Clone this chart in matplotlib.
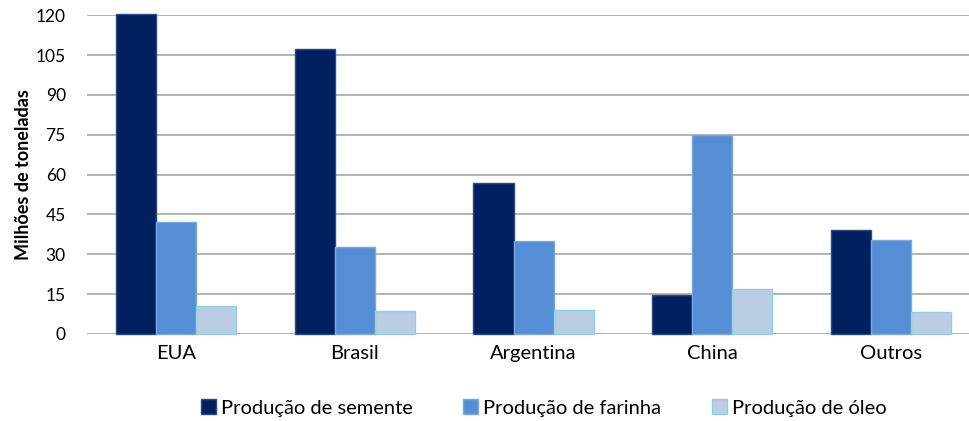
import numpy as np
import matplotlib.pyplot as plt

paises = ['EUA', 'Brasil', 'Argentina', 'China', 'Outros']
semente = [120.5, 107.2, 56.8, 14.7, 39.1]
farinha = [42.2, 32.6, 35.0, 74.9, 35.5]
oleo = [10.4, 8.6, 9.1, 16.9, 8.4]

series = [('Produção de semente', semente, '#002060', '#2a4a80'),
          ('Produção de farinha', farinha, '#558ED5', '#7aa8e0'),
          ('Produção de óleo', oleo, '#B9CDE5', '#8fcfe0')]

plt.rcParams['font.family'] = ['Lato', 'DejaVu Sans']

fig = plt.figure(figsize=(9.69, 4.21), dpi=100)
# plot area runs a little past the right edge, like the cropped original
ax = fig.add_axes([0.0894, 0.2067, 0.9224, 0.7573])

x = np.arange(len(paises))
w = 0.224
for i, (lbl, vals, fc, ec) in enumerate(series):
    ax.bar(x + (i - 1) * w, vals, w, color=fc, edgecolor=ec, linewidth=1,
           label=lbl, zorder=3, clip_on=False)

ax.set_xlim(-0.5, len(paises) - 0.5)
ax.set_ylim(0, 120)
ax.set_yticks(range(0, 121, 15))
ax.yaxis.grid(True, color='#a6a6a6', linewidth=1.2, zorder=0)
ax.set_axisbelow(True)
for s in ['top', 'right', 'left', 'bottom']:
    ax.spines[s].set_visible(False)
ax.tick_params(axis='y', length=0, labelsize=12.5, pad=15)
ax.tick_params(axis='x', length=0, labelsize=14.5, pad=8)
ax.set_xticks(x)
ax.set_xticklabels(paises)
ax.set_ylabel('Milhões de toneladas', fontsize=13, fontweight='bold', labelpad=3)

fig.legend(loc='center', bbox_to_anchor=(0.561, 0.031), ncol=3, frameon=False,
           fontsize=14.5, handlelength=0.75, handleheight=0.75, handletextpad=0.25,
           columnspacing=2.5)

fig.savefig('out.png', dpi=100)
